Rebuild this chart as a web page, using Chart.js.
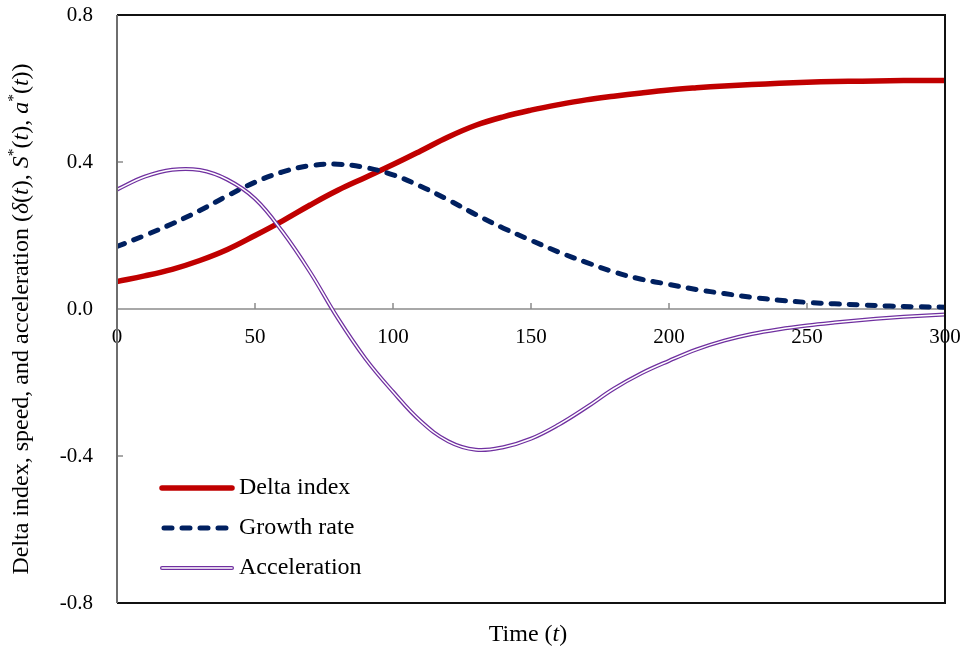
<!DOCTYPE html>
<html>
<head>
<meta charset="utf-8">
<script src="https://cdn.jsdelivr.net/npm/chart.js@4.4.1/dist/chart.umd.min.js"></script>
<style>
  body { margin: 0; background: #fff; }
  #wrap { width: 963px; height: 649px; position: relative; }
</style>
</head>
<body>
<div id="wrap"><canvas id="chart"></canvas></div>
<script>
// Time points (t)
const timePoints = [0, 10, 20, 30, 40, 50, 60, 70, 80, 90, 100, 110, 120, 130, 140, 150,
  160, 170, 180, 190, 200, 210, 220, 230, 240, 250, 260, 270, 280, 290, 300];

// Series
const deltaIndex = [0.075, 0.090, 0.108, 0.132, 0.162, 0.200, 0.240, 0.283, 0.323, 0.358, 0.393,
  0.430, 0.468, 0.500, 0.523, 0.541, 0.556, 0.569, 0.579, 0.588, 0.596, 0.602, 0.607, 0.611,
  0.614, 0.617, 0.619, 0.620, 0.621, 0.622, 0.622];
const growthRate = [0.170, 0.200, 0.232, 0.268, 0.308, 0.345, 0.373, 0.390, 0.394, 0.385, 0.365,
  0.334, 0.297, 0.257, 0.220, 0.187, 0.155, 0.127, 0.101, 0.081, 0.067, 0.053, 0.042, 0.032,
  0.024, 0.018, 0.014, 0.011, 0.008, 0.006, 0.005];
const acceleration = [0.325, 0.360, 0.379, 0.378, 0.352, 0.300, 0.210, 0.100, -0.025, -0.135,
  -0.225, -0.305, -0.360, -0.383, -0.376, -0.353, -0.315, -0.268, -0.217, -0.175, -0.141,
  -0.110, -0.086, -0.068, -0.055, -0.045, -0.037, -0.030, -0.024, -0.019, -0.015];

const yTicks = [-0.8, -0.4, 0, 0.4, 0.8];
const xTicks = [0, 50, 100, 150, 200, 250, 300];

const FONT = "'Liberation Serif', 'Times New Roman', serif";
const RED = '#C00000';
const NAVY = '#002060';
const PURPLE = '#7030A0';

function toPoints(values) {
  return timePoints.map((t, i) => ({ x: t, y: values[i] }));
}

// Draw text made of pieces (italic / superscript)
function drawRich(ctx, parts, x, y, size) {
  const fontFor = (p) => (p.italic ? 'italic ' : '') + (p.sup ? size * 0.65 : size) + 'px ' + FONT;
  let total = 0;
  parts.forEach(p => { ctx.font = fontFor(p); total += ctx.measureText(p.text).width; });
  let cx = x - total / 2;
  ctx.textAlign = 'left';
  ctx.textBaseline = 'middle';
  parts.forEach(p => {
    ctx.font = fontFor(p);
    ctx.fillText(p.text, cx, p.sup ? y - size * 0.35 : y);
    cx += ctx.measureText(p.text).width;
  });
}

const yTitle = [
  { text: 'Delta index, speed, and acceleration (' },
  { text: 'δ', italic: true }, { text: '(' }, { text: 't', italic: true }, { text: '), ' },
  { text: 'S', italic: true }, { text: '*', sup: true }, { text: '(' }, { text: 't', italic: true }, { text: '), ' },
  { text: 'a', italic: true }, { text: '*', sup: true }, { text: '(' }, { text: 't', italic: true }, { text: '))' }
];
const xTitle = [{ text: 'Time (' }, { text: 't', italic: true }, { text: ')' }];

const legendItems = [
  { label: 'Delta index', kind: 'solid' },
  { label: 'Growth rate', kind: 'dash' },
  { label: 'Acceleration', kind: 'double' }
];

// Frame, zero line, inner ticks, titles and legend
const decorPlugin = {
  id: 'decor',
  beforeDatasetsDraw(chart) {
    const { ctx, chartArea: a, scales: { x, y } } = chart;
    const y0 = y.getPixelForValue(0);
    ctx.save();
    ctx.strokeStyle = '#8c8c8c';
    ctx.lineWidth = 1.5;
    ctx.beginPath();
    ctx.moveTo(a.left, y0); ctx.lineTo(a.right, y0);
    xTicks.forEach(t => {
      if (t === 0 || t === 300) return;
      const px = x.getPixelForValue(t);
      ctx.moveTo(px, y0); ctx.lineTo(px, y0 - 6);
    });
    yTicks.forEach(v => {
      const py = y.getPixelForValue(v);
      ctx.moveTo(a.left, py); ctx.lineTo(a.left + 6, py);
    });
    ctx.stroke();
    ctx.restore();
  },
  afterDraw(chart) {
    const { ctx, chartArea: a } = chart;
    ctx.save();
    // frame
    ctx.lineWidth = 2;
    ctx.strokeStyle = '#111';
    ctx.beginPath();
    ctx.moveTo(a.left, a.top); ctx.lineTo(a.right, a.top); ctx.lineTo(a.right, a.bottom); ctx.lineTo(a.left, a.bottom);
    ctx.stroke();
    ctx.strokeStyle = '#6e6e6e';
    ctx.beginPath();
    ctx.moveTo(a.left, a.top); ctx.lineTo(a.left, a.bottom);
    ctx.stroke();

    // titles
    ctx.fillStyle = '#000';
    drawRich(ctx, xTitle, 528, 635, 24);
    ctx.save();
    ctx.translate(22, 319);
    ctx.rotate(-Math.PI / 2);
    drawRich(ctx, yTitle, 0, 0, 24);
    ctx.restore();

    // legend
    const x0 = 162, x1 = 232, textX = 239;
    legendItems.forEach((item, i) => {
      const ly = 488 + i * 40;
      ctx.save();
      ctx.lineCap = 'round';
      if (item.kind === 'solid') {
        ctx.strokeStyle = RED; ctx.lineWidth = 5.5;
        ctx.beginPath(); ctx.moveTo(x0, ly); ctx.lineTo(x1, ly); ctx.stroke();
      } else if (item.kind === 'dash') {
        ctx.strokeStyle = NAVY; ctx.lineWidth = 5; ctx.setLineDash([8, 10]);
        ctx.beginPath(); ctx.moveTo(x0 + 2, ly); ctx.lineTo(x1, ly); ctx.stroke();
      } else {
        ctx.strokeStyle = PURPLE; ctx.lineWidth = 4;
        ctx.beginPath(); ctx.moveTo(x0, ly); ctx.lineTo(x1, ly); ctx.stroke();
        ctx.strokeStyle = '#fff'; ctx.lineWidth = 1.5;
        ctx.beginPath(); ctx.moveTo(x0, ly); ctx.lineTo(x1, ly); ctx.stroke();
      }
      ctx.restore();
      ctx.fillStyle = '#000';
      ctx.font = '24px ' + FONT;
      ctx.textAlign = 'left';
      ctx.textBaseline = 'middle';
      ctx.fillText(item.label, textX, ly);
    });
    ctx.restore();
  }
};

new Chart(document.getElementById('chart'), {
  type: 'line',
  data: {
    datasets: [
      {
        label: 'Delta index', data: toPoints(deltaIndex), order: 4,
        borderColor: RED, borderWidth: 5.5, borderCapStyle: 'round'
      },
      {
        label: 'Growth rate', data: toPoints(growthRate), order: 3,
        borderColor: NAVY, borderWidth: 5, borderDash: [8, 10], borderCapStyle: 'round'
      },
      {
        label: 'Acceleration', data: toPoints(acceleration), order: 2,
        borderColor: PURPLE, borderWidth: 4, borderCapStyle: 'round'
      },
      {
        label: 'Acceleration (inner)', data: toPoints(acceleration), order: 1,
        borderColor: '#fff', borderWidth: 1.5, borderCapStyle: 'round'
      }
    ]
  },
  options: {
    responsive: true,
    maintainAspectRatio: false,
    animation: false,
    layout: { padding: { top: 15, right: 18, bottom: 46, left: 0 } },
    elements: {
      point: { radius: 0, hoverRadius: 0 },
      line: { tension: 0.4, fill: false }
    },
    plugins: {
      legend: { display: false },
      tooltip: { enabled: false }
    },
    scales: {
      x: {
        type: 'linear',
        position: { y: 0 },
        min: 0,
        max: 300,
        afterBuildTicks: (scale) => { scale.ticks = xTicks.map(v => ({ value: v })); },
        afterFit: (scale) => { scale.paddingLeft = 0; scale.paddingRight = 0; },
        grid: { display: false, drawTicks: false },
        border: { display: false },
        ticks: {
          color: '#000',
          padding: 16,
          maxRotation: 0,
          font: { family: FONT, size: 21 }
        }
      },
      y: {
        type: 'linear',
        min: -0.8,
        max: 0.8,
        afterBuildTicks: (scale) => { scale.ticks = yTicks.map(v => ({ value: v })); },
        afterFit: (scale) => { scale.width = 117; scale.paddingTop = 0; scale.paddingBottom = 0; },
        grid: { display: false, drawTicks: false },
        border: { display: false },
        ticks: {
          color: '#000',
          padding: 24,
          font: { family: FONT, size: 21 },
          callback: (v) => (Math.abs(v) < 1e-9 ? '0.0' : v.toFixed(1))
        }
      }
    }
  },
  plugins: [decorPlugin]
});
</script>
</body>
</html>
